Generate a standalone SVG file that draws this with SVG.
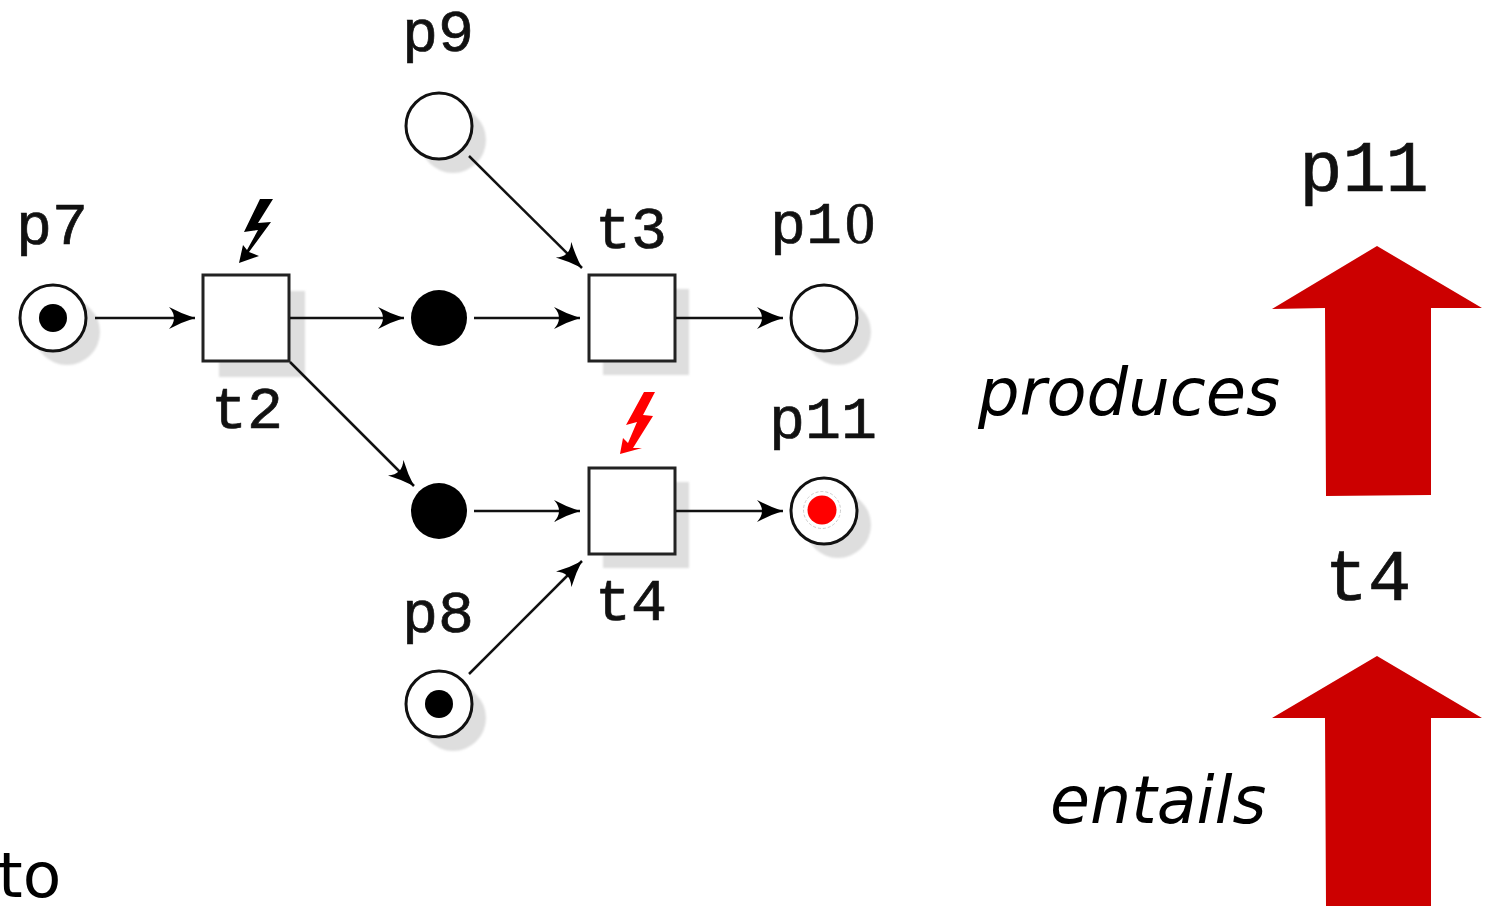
<svg xmlns="http://www.w3.org/2000/svg" width="1488" height="906" viewBox="0 0 1488 906">
<style>
.tt{font-family:"Liberation Mono","DejaVu Sans Mono",monospace;fill:#111;stroke:#111;stroke-width:.7}
.lb{font-size:60px}
.big{font-size:72px}
.it{font-family:"DejaVu Sans",sans-serif;font-style:italic;font-size:65px;fill:#000}
.pl{fill:#fff;stroke:#111;stroke-width:3}
.sq{fill:#fff;stroke:#222;stroke-width:3}
.sh{fill:#dedede;filter:url(#b)}
.c line{stroke:#111;stroke-width:2.5;marker-end:url(#a)}
.up{fill:#cc0000}
</style>
<defs>
<filter id="b" x="-10%" y="-10%" width="120%" height="120%"><feGaussianBlur stdDeviation="0.8"/></filter>
<marker id="a" markerUnits="userSpaceOnUse" markerWidth="28" markerHeight="24" refX="26" refY="12" orient="auto"><path d="M0 1 Q13 8 26 12 Q13 16 0 23 Q10 12 0 1Z" fill="#000"/></marker>
</defs>
<g id="p7"><circle class="sh" cx="67" cy="332" r="33"/><circle class="pl" cx="53" cy="318" r="33"/><circle cx="53" cy="318" r="14" fill="#000"/><text class="tt lb" x="52" y="244" text-anchor="middle">p7</text></g>
<g id="t2"><rect class="sh" x="219" y="291" width="86" height="86"/><rect class="sq" x="203" y="275" width="86" height="86"/><text class="tt lb" x="247" y="428" text-anchor="middle">t2</text><path d="M260 199 L273 199 L258 223 L271 222 L249 252 L259 256 L239 263 L243 245 L247 250 L258 230 L244 232Z" fill="#000"/></g>
<g id="p9"><circle class="sh" cx="453" cy="140" r="33"/><circle class="pl" cx="439" cy="126" r="33"/><text class="tt lb" x="438" y="51" text-anchor="middle">p9</text></g>
<g id="d1"><circle cx="439" cy="318" r="28" fill="#000"/></g>
<g id="d2"><circle cx="439" cy="511" r="28" fill="#000"/></g>
<g id="t3"><rect class="sh" x="603" y="289" width="86" height="86"/><rect class="sq" x="589" y="275" width="86" height="86"/><text class="tt lb" x="631" y="248" text-anchor="middle">t3</text></g>
<g id="t4"><rect class="sh" x="603" y="482" width="86" height="86"/><rect class="sq" x="589" y="468" width="86" height="86"/><text class="tt lb" x="631" y="620" text-anchor="middle">t4</text><path d="M644 392 L655 392 L643 415 L653 416 L633 448 L642 448 L620 454 L623 438 L628 443 L637 422 L626 425Z" fill="#f00"/></g>
<g id="p10"><circle class="sh" cx="838" cy="332" r="33"/><circle class="pl" cx="824" cy="318" r="33"/><text class="tt lb" x="770" y="243">p1<tspan font-family="'Liberation Serif',serif" dx="3">0</tspan></text></g>
<g id="p11"><circle class="sh" cx="838" cy="525" r="33"/><circle class="pl" cx="824" cy="511" r="33"/><circle cx="822" cy="510" r="18.500" fill="none" stroke="#ccc" stroke-width="1" stroke-dasharray="3 2"/><circle cx="822" cy="510" r="14.500" fill="#f00"/><text class="tt lb" x="823" y="438" text-anchor="middle">p11</text></g>
<g id="p8"><circle class="sh" cx="453" cy="718" r="33"/><circle class="pl" cx="439" cy="704" r="33"/><circle cx="439" cy="704" r="14" fill="#000"/><text class="tt lb" x="438" y="632" text-anchor="middle">p8</text></g>
<g id="connectors" class="c">
<line x1="95" y1="318" x2="195" y2="318"/>
<line x1="290" y1="318" x2="404" y2="318"/>
<line x1="474" y1="318" x2="580" y2="318"/>
<line x1="676" y1="318" x2="783" y2="318"/>
<line x1="474" y1="511" x2="580" y2="511"/>
<line x1="676" y1="511" x2="783" y2="511"/>
<line x1="290" y1="362" x2="414" y2="486"/>
<line x1="469" y1="156" x2="582" y2="268"/>
<line x1="469" y1="674" x2="582" y2="561"/>
</g>
<text x="-2" y="897" font-family="'DejaVu Sans',sans-serif" font-size="63" fill="#000">to</text>
<g id="up1"><polygon class="up" points="1377,246 1482,308 1431,308 1431,495 1326,496 1325,308 1272,309"/></g>
<g id="up2"><polygon class="up" points="1377,656 1482,718 1431,718 1431,906 1326,906 1325,718 1272,718"/></g>
<text class="tt big" x="1364" y="191" text-anchor="middle">p11</text>
<text class="tt big" x="1368" y="600" text-anchor="middle">t4</text>
<text class="it" x="978" y="415" style="font-size:65.500px">produces</text>
<text class="it" x="1050" y="823">entails</text>
</svg>
